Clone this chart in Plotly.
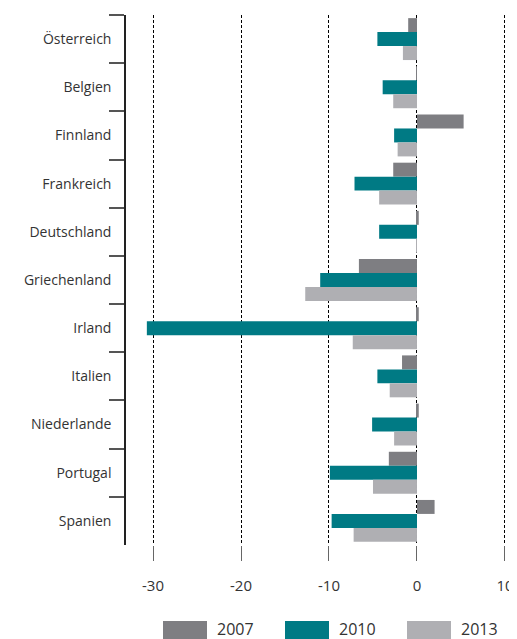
import plotly.graph_objects as go

countries = ["Österreich", "Belgien", "Finnland", "Frankreich", "Deutschland",
             "Griechenland", "Irland", "Italien", "Niederlande", "Portugal", "Spanien"]
years = ["2007", "2010", "2013"]
values_2007 = [-1.0, -0.1, 5.3, -2.7, 0.2, -6.6, 0.2, -1.7, 0.2, -3.2, 2.0]
values_2010 = [-4.5, -3.9, -2.6, -7.1, -4.3, -11.0, -30.7, -4.5, -5.1, -9.9, -9.7]
values_2013 = [-1.6, -2.7, -2.2, -4.3, -0.1, -12.7, -7.3, -3.1, -2.6, -5.0, -7.2]
tick_values = [-30, -20, -10, 0, 10]
tick_labels = ["-30", "-20", "-10", "0", "10"]

colors = {"2007": "#7e7e82", "2010": "#007a84", "2013": "#afafb3"}
series = {"2007": values_2007, "2010": values_2010, "2013": values_2013}

fig = go.Figure()
# y axis is reversed, so the first trace ends up on top of each group
for year in years:
    fig.add_trace(go.Bar(
        y=countries, x=series[year], name=year, orientation="h",
        marker={"color": colors[year], "line": {"width": 0}},
        showlegend=False,
    ))

# the page body adds an 8px margin, so work in page pixels minus 8
OFF = 8
W, H = 517 - OFF, 639 - OFF
L, R, T, B = 126 - OFF, 507 - OFF, 15 - OFF, 545 - OFF


def px_x(p):
    return (p - OFF - L) / (R - L)


def px_y(p):
    return (B - (p - OFF)) / (B - T)


legend_x = [163, 285, 407]
for year, x0 in zip(years, legend_x):
    fig.add_shape(type="rect", xref="paper", yref="paper",
                  x0=px_x(x0), x1=px_x(x0 + 44), y0=px_y(621), y1=px_y(640),
                  fillcolor=colors[year], line={"width": 0})
    fig.add_annotation(xref="paper", yref="paper", x=px_x(x0 + 52), y=px_y(629),
                       text=year, showarrow=False, xanchor="left", yanchor="middle",
                       font={"size": 16, "color": "#333333"})

fig.update_layout(
    width=W, height=H,
    barmode="group", bargap=0.13, bargroupgap=0,
    plot_bgcolor="white", paper_bgcolor="white",
    margin={"l": L, "r": W - R, "t": T, "b": H - B, "autoexpand": False},
    font={"family": "Open Sans", "color": "#333333"},
)
fig.update_xaxes(
    range=[-33.07, 10.23], tickvals=tick_values, ticktext=tick_labels,
    showgrid=True, gridcolor="#000000", gridwidth=1, griddash="3px,2px",
    zeroline=False, showline=False, automargin=False,
    ticks="outside", ticklen=15, tickcolor="#666666", tickwidth=1,
    ticklabelstandoff=12, ticklabeloverflow="allow",
    tickfont={"size": 15, "color": "#333333"},
)
fig.update_yaxes(
    autorange="reversed", showgrid=False, zeroline=False, automargin=False,
    showline=True, linecolor="#222222", linewidth=1.5,
    ticks="outside", tickson="boundaries", ticklen=15, tickcolor="#555555", tickwidth=1.5,
    ticklabelstandoff=10,
    tickfont={"size": 14, "color": "#333333"},
)

fig.write_html("out.html")
